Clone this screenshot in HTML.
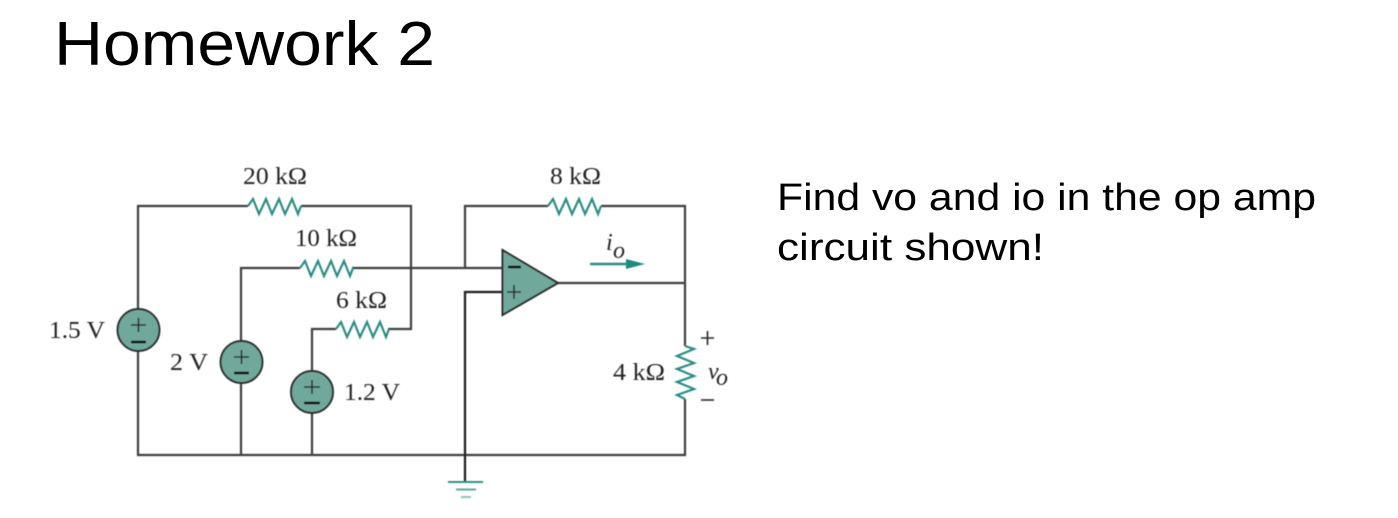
<!DOCTYPE html>
<html>
<head>
<meta charset="utf-8">
<style>
html,body{margin:0;padding:0;background:#fff;width:1398px;height:518px;overflow:hidden}
svg{display:block}
.h{font-family:"Liberation Sans",sans-serif;fill:#000}
.s{font-family:"Liberation Serif",serif;fill:#222;font-size:24px}
.w{fill:none;stroke:#404040;stroke-width:2.2}
.r{fill:none;stroke:#2a8c84;stroke-width:2.2;stroke-linejoin:miter}
.c{fill:#6fa99c;stroke:#2a2a2a;stroke-width:2}
.p{stroke:#2a2a2a;stroke-width:1.6;fill:none}
.m{stroke:#111;stroke-width:2.6;fill:none}
</style>
</head>
<body>
<svg width="1398" height="518" viewBox="0 0 1398 518" xmlns="http://www.w3.org/2000/svg">
<defs><filter id="b" x="-5%" y="-5%" width="110%" height="110%"><feGaussianBlur stdDeviation="0.5"/></filter></defs>
<text class="h" x="54" y="65" font-size="62" textLength="381" lengthAdjust="spacingAndGlyphs">Homework 2</text>
<text class="h" x="777" y="210" font-size="38" textLength="539" lengthAdjust="spacingAndGlyphs">Find vo and io in the op amp</text>
<text class="h" x="777" y="260" font-size="38" textLength="267" lengthAdjust="spacingAndGlyphs">circuit shown!</text>
<g filter="url(#b)">
<path class="w" d="M138 309V206H248M301 206H411V329H388M336 329H312V371M241 341V268H300M352 268H502M465 268V206H548M601 206H685V346M685 399V455H138V351M241 383V455M312 413V455M558 283H685"/>
<path d="M502 292H465V482" fill="none" stroke="#1a1a1a" stroke-width="2.200"/>
<path class="r" d="M248 206L253 199L259 214L266 199L272 214L279 199L285 214L292 199L298 214L301 206"/>
<path class="r" d="M300 268L305 261L311 276L318 261L324 276L331 261L337 276L344 261L350 276L353 268"/>
<path class="r" d="M336 329L341 322L347 337L354 322L360 337L367 322L373 337L380 322L386 337L389 329"/>
<path class="r" d="M548 206L553 199L559 214L566 199L572 214L579 199L585 214L592 199L598 214L601 206"/>
<path class="r" d="M685 346L694 349L677 356L694 363L677 369L694 376L677 382L694 389L677 395L685 399"/>
<polygon points="502.500,250 558,283 502.500,315" fill="#6fa99c" stroke="#2a2a2a" stroke-width="2"/>
<path class="m" d="M508 267H521"/>
<path class="p" d="M507 292H521M514 285V299"/>
<circle class="c" cx="138.500" cy="330" r="21"/>
<path class="p" d="M131 325H146M138.500 318V332"/>
<path class="m" d="M131 342H146"/>
<circle class="c" cx="241.500" cy="362" r="21"/>
<path class="p" d="M234 357H249M241.500 350V364"/>
<path class="m" d="M234 373H249"/>
<circle class="c" cx="312" cy="392" r="21"/>
<path class="p" d="M304 387H320M312 380V394"/>
<path class="m" d="M304 403H320"/>
<path d="M448 482H483" stroke="#2f9088" stroke-width="2" fill="none"/>
<path d="M456 489.500H476" stroke="#5aa9a0" stroke-width="2" fill="none"/>
<path d="M461 497H471" stroke="#8cc4be" stroke-width="2" fill="none"/>
<path d="M590 264H628" stroke="#2a8c84" stroke-width="2.400" fill="none"/>
<polygon points="626,259 645,264 626,269" fill="#1f8a80"/>
<path class="p" d="M701 338H714M707.500 331V345"/>
<path class="p" d="M701 400H714"/>
<text class="s" x="243" y="184" textLength="64" lengthAdjust="spacingAndGlyphs">20 kΩ</text>
<text class="s" x="295" y="246" textLength="62" lengthAdjust="spacingAndGlyphs">10 kΩ</text>
<text class="s" x="336" y="308" textLength="51" lengthAdjust="spacingAndGlyphs">6 kΩ</text>
<text class="s" x="550" y="184" textLength="51" lengthAdjust="spacingAndGlyphs">8 kΩ</text>
<text class="s" x="613" y="380" textLength="52" lengthAdjust="spacingAndGlyphs">4 kΩ</text>
<text class="s" x="49" y="338" textLength="56" lengthAdjust="spacingAndGlyphs">1.5 V</text>
<text class="s" x="170" y="370" textLength="38" lengthAdjust="spacingAndGlyphs">2 V</text>
<text class="s" x="344" y="400" textLength="56" lengthAdjust="spacingAndGlyphs">1.2 V</text>
<text class="s" x="606" y="250" font-style="italic" font-size="22">i</text>
<text class="s" x="613" y="258" font-style="italic" font-size="17">o</text>
<text class="s" x="708" y="379" font-style="italic" font-size="24">v</text>
<text class="s" x="716" y="385" font-style="italic" font-size="15">o</text>
</g>
</svg>
</body>
</html>
